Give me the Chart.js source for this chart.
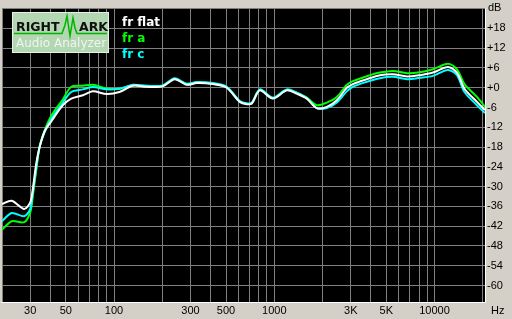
<!DOCTYPE html>
<html>
<head>
<meta charset="utf-8">
<script src="https://cdn.jsdelivr.net/npm/chart.js@4"></script>
<style>
html, body { margin: 0; padding: 0; background: #d4d0c8; }
</style>
</head>
<body>
<canvas id="rmaa" width="512" height="319"></canvas>
<script>
// frequency points (Hz) and levels (dB)
const freqs = [20, 23, 27.5, 30, 31.1, 32.7, 34.3, 36.9, 40.6, 48, 54.1, 63.9, 73.8, 90, 108,
  131, 160, 201, 239, 284, 328, 413, 505, 609, 673, 724, 812, 979, 1197, 1382, 1596, 1842,
  2128, 2457, 2836, 3093, 3782, 4560, 5498, 6724, 8106, 9773, 12120, 13800, 15380, 18400, 20650];

const frFlat = [-35.3, -34.3, -36.8, -34.8, -30.9, -23.0, -18.1, -13.2, -10.2, -5.3, -3.3, -2.3, -1.1, -1.9, -1.3,
  0.6, 0.3, 0.4, 2.6, 0.9, 1.4, 1.1, 0.0, -4.3, -5.0, -4.8, -0.8, -3.3, -0.8, -1.8, -3.3, -6.2,
  -5.8, -3.8, 0.0, 1.1, 2.6, 3.8, 4.1, 3.4, 3.8, 4.6, 6.3, 4.6, -0.3, -4.3, -6.8];

const frA = [-43.1, -40.5, -40.8, -37.8, -33.0, -25.0, -18.0, -13.0, -8.5, -3.5, 0.3, 0.6, 0.9, -0.2, -0.3,
  0.7, 0.4, 0.5, 2.7, 1.0, 1.5, 1.2, 0.1, -4.2, -4.9, -4.7, -0.7, -3.2, -0.7, -1.6, -3.0, -5.3,
  -4.5, -2.8, 0.9, 2.0, 3.5, 4.6, 5.1, 4.4, 4.7, 5.6, 7.3, 5.6, 1.1, -2.8, -5.8];

const frC = [-40.5, -38.0, -39.0, -36.8, -32.0, -24.5, -18.0, -13.5, -9.5, -4.5, -1.3, -0.5, 0.2, -0.5, -0.3,
  0.9, 0.6, 0.7, 2.9, 1.2, 1.7, 1.4, 0.3, -4.0, -4.7, -4.5, -0.5, -3.0, -0.5, -1.5, -3.1, -6.2,
  -6.2, -4.5, -1.1, 0.3, 1.8, 2.9, 3.3, 2.6, 3.0, 3.6, 5.4, 3.8, -1.3, -5.3, -7.7];

const xGrid = [20, 30, 40, 50, 60, 70, 80, 90, 100, 200, 300, 400, 500, 600, 700, 800, 900,
  1000, 2000, 3000, 4000, 5000, 6000, 7000, 8000, 9000, 10000, 20000];
const xTickLabels = { 30: '30', 50: '50', 100: '100', 300: '300', 500: '500', 1000: '1000', 3000: '3K', 5000: '5K', 10000: '10000' };
const yTicks = [-60, -54, -48, -42, -36, -30, -24, -18, -12, -6, 0, 6, 12, 18, 24];

const seriesNames = ['fr flat', 'fr a', 'fr c'];

const toPoints = arr => arr.map((v, i) => ({ x: freqs[i], y: v }));

const panel = {
  id: 'panel',
  beforeDraw(chart) {
    const { ctx, chartArea: a } = chart;
    ctx.save();
    ctx.fillStyle = '#d4d0c8';
    ctx.fillRect(0, 0, chart.width, chart.height);
    ctx.fillStyle = '#000';
    ctx.fillRect(a.left, a.top, a.right - a.left, a.bottom - a.top);
    ctx.restore();
  },
  afterDraw(chart) {
    const { ctx, chartArea: a } = chart;
    ctx.save();
    // sunken frame
    ctx.strokeStyle = '#ffffff';
    ctx.lineWidth = 1;
    ctx.beginPath();
    ctx.moveTo(a.right + 0.5, a.top);
    ctx.lineTo(a.right + 0.5, a.bottom + 0.5);
    ctx.lineTo(a.left - 1, a.bottom + 0.5);
    ctx.stroke();

    ctx.fillStyle = '#000';
    ctx.font = '11px "Liberation Sans"';
    ctx.textBaseline = 'middle';
    ctx.textAlign = 'left';
    ctx.fillText('dB', 488, 8);
    ctx.fillText('Hz', 491, 311);

    // logo
    ctx.fillStyle = '#b3d6b3';
    ctx.fillRect(12, 12, 97, 41);
    ctx.strokeStyle = '#e8efe8';
    ctx.strokeRect(12.5, 12.5, 96, 40);
    ctx.fillStyle = '#101010';
    ctx.font = 'bold 12.5px "DejaVu Sans"';
    ctx.textBaseline = 'alphabetic';
    ctx.fillText('RIGHT', 16, 31);
    ctx.fillText('ARK', 79, 31);
    ctx.strokeStyle = '#00b400';
    ctx.lineWidth = 1.5;
    ctx.beginPath();
    ctx.moveTo(14, 33.5);
    ctx.lineTo(62, 33.5);
    ctx.lineTo(65, 25);
    ctx.lineTo(67, 16);
    ctx.lineTo(70, 36);
    ctx.lineTo(73, 18);
    ctx.lineTo(75, 28);
    ctx.lineTo(77, 33.5);
    ctx.lineTo(107, 33.5);
    ctx.stroke();
    ctx.fillStyle = '#f0f5f0';
    ctx.font = '12px "DejaVu Sans"';
    ctx.fillText('Audio Analyzer', 16, 47);

    // legend
    const colors = ['#ffffff', '#00ff00', '#00ffff'];
    ctx.font = 'bold 12px "DejaVu Sans"';
    seriesNames.forEach((name, i) => {
      ctx.fillStyle = colors[i];
      ctx.fillText(name, 122, 26 + i * 16);
    });
    ctx.restore();
  }
};

const tickFont = { family: 'Liberation Sans', size: 11 };

new Chart(document.getElementById('rmaa').getContext('2d'), {
  type: 'line',
  data: {
    datasets: [
      { label: seriesNames[0], data: toPoints(frFlat), borderColor: '#ffffff', order: 0 },
      { label: seriesNames[1], data: toPoints(frA), borderColor: '#00ff00', order: 2 },
      { label: seriesNames[2], data: toPoints(frC), borderColor: '#00ffff', order: 1 }
    ]
  },
  options: {
    responsive: false,
    animation: false,
    events: [],
    layout: { padding: { left: 2, top: 1, right: 0, bottom: 0 } },
    elements: {
      line: { borderWidth: 2, tension: 0.3, fill: false },
      point: { radius: 0 }
    },
    plugins: { legend: { display: false }, tooltip: { enabled: false } },
    scales: {
      x: {
        type: 'logarithmic',
        min: 20,
        max: 20650,
        position: 'bottom',
        grid: { color: '#808080', lineWidth: 1, drawTicks: false },
        border: { display: false },
        ticks: {
          autoSkip: false,
          maxRotation: 0,
          padding: 2,
          color: '#000',
          font: tickFont,
          callback: v => xTickLabels[v] || ''
        },
        afterBuildTicks: s => { s.ticks = xGrid.map(v => ({ value: v })); },
        afterFit: s => { s.height = 17; }
      },
      y: {
        position: 'right',
        min: -65,
        max: 24,
        grid: { color: '#808080', lineWidth: 1, drawTicks: false },
        border: { display: false },
        ticks: {
          padding: 2,
          color: '#000',
          font: tickFont,
          callback: v => v === 24 ? '' : (v >= 0 ? '+' + v : '' + v)
        },
        afterBuildTicks: s => { s.ticks = yTicks.map(v => ({ value: v })); },
        afterFit: s => { s.width = 27; }
      }
    }
  },
  plugins: [panel]
});
</script>
</body>
</html>
